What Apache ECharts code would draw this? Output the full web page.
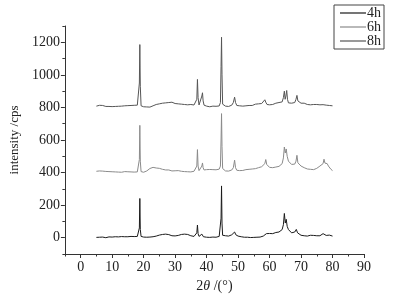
<!DOCTYPE html>
<html><head><meta charset="utf-8">
<script src="https://cdn.jsdelivr.net/npm/echarts@6/dist/echarts.min.js"></script>
<style>html,body{margin:0;padding:0;background:#fff}#c{width:395px;height:298px}</style>
</head><body><div id="c"></div>
<script>
var seriesNames = ['4h', '6h', '8h'];
var xTickLabels = [0, 10, 20, 30, 40, 50, 60, 70, 80, 90];
var xMinorTicks = [-5, 5, 15, 25, 35, 45, 55, 65, 75, 85];
var yTickLabels = [0, 200, 400, 600, 800, 1000, 1200];
var yMinorTicks = [-100, 100, 300, 500, 700, 900, 1100, 1300];

var data4h = [[5,2],[5.5,0],[6,3],[6.5,1],[7,4],[7.5,2],[8,0],[8.5,3],[9,5],[9.5,2],[10,4],[10.5,3],[11,6],[11.5,3],[12,5],[12.5,4],[13,7],[13.5,4],[14,6],[14.5,10],[15,6],[15.5,5],[16,8],[16.5,6],[17,7],[17.5,9],[18,8],[18.4,10],[18.65,60],[18.8,241],[18.95,50],[19.2,8],[19.5,5],[20,4],[20.5,2],[21,3],[21.5,1],[22,4],[22.5,2],[23,6],[23.5,8],[24,10],[24.5,12],[25,16],[25.5,14],[26,20],[26.5,18],[27,22],[27.5,17],[28,19],[28.5,14],[29,12],[29.5,10],[30,11],[30.5,9],[31,14],[31.5,18],[32,20],[32.5,24],[33,22],[33.5,25],[34,20],[34.5,16],[35,12],[35.5,9],[36,8],[36.5,10],[36.9,30],[37.1,78],[37.3,25],[37.6,8],[38,10],[38.5,22],[38.8,12],[39,6],[39.5,5],[40,3],[40.5,4],[41,2],[41.5,3],[42,4],[42.5,5],[43,3],[43.5,6],[44,8],[44.4,20],[44.6,120],[44.75,318],[44.9,90],[45.1,15],[45.5,10],[46,12],[46.5,14],[47,10],[47.5,16],[48,18],[48.5,22],[48.9,35],[49.3,18],[49.7,14],[50,10],[50.5,8],[51,6],[51.5,4],[52,3],[52.5,2],[53,3],[53.5,2],[54,1],[54.5,3],[55,2],[55.5,1],[56,3],[56.5,2],[57,4],[57.5,6],[58,10],[58.5,20],[59,25],[59.5,22],[60,26],[60.5,28],[61,25],[61.5,30],[62,32],[62.5,28],[63,35],[63.5,40],[64,50],[64.4,80],[64.7,149],[65,90],[65.3,113],[65.6,70],[66,50],[66.5,40],[67,30],[67.5,25],[68,35],[68.5,51],[68.9,30],[69.5,20],[70,15],[70.5,18],[71,12],[71.5,14],[72,10],[72.5,13],[73,15],[73.5,11],[74,14],[74.5,10],[75,12],[75.5,16],[76,12],[76.5,18],[77,25],[77.5,20],[78,14],[78.5,10],[79,16],[79.5,12],[80,10]];

var data6h = [[5,408],[5.5,405],[6,410],[6.5,406],[7,409],[7.5,404],[8,407],[8.5,411],[9,406],[9.5,408],[10,405],[10.5,407],[11,404],[11.5,406],[12,403],[12.5,405],[13,402],[13.5,404],[14,406],[14.5,403],[15,405],[15.5,402],[16,404],[16.5,401],[17,403],[17.5,402],[18,404],[18.4,406],[18.65,480],[18.8,690],[18.95,470],[19.2,406],[19.5,404],[20,402],[20.5,405],[21,410],[21.5,418],[22,425],[22.5,428],[23,432],[23.5,430],[24,428],[24.5,432],[25,426],[25.5,424],[26,420],[26.5,418],[27,416],[27.5,414],[28,416],[28.5,412],[29,410],[29.5,408],[30,411],[30.5,409],[31,412],[31.5,410],[32,408],[32.5,410],[33,406],[33.5,409],[34,405],[34.5,407],[35,404],[35.5,406],[36,408],[36.5,410],[36.9,440],[37.1,541],[37.3,440],[37.6,412],[38,414],[38.5,440],[38.7,459],[38.9,430],[39.2,416],[39.5,420],[40,418],[40.5,422],[41,419],[41.5,421],[42,418],[42.5,420],[43,417],[43.5,419],[44,421],[44.4,440],[44.6,600],[44.75,762],[44.9,560],[45.1,425],[45.5,414],[46,410],[46.5,412],[47,409],[47.5,414],[48,416],[48.5,430],[48.9,476],[49.2,430],[49.6,414],[50,410],[50.5,412],[51,409],[51.5,413],[52,415],[52.5,418],[53,416],[53.5,420],[54,418],[54.5,422],[55,420],[55.5,424],[56,426],[56.5,430],[57,428],[57.5,436],[58,440],[58.5,455],[58.8,480],[59.1,450],[59.5,438],[60,432],[60.5,436],[61,430],[61.5,438],[62,434],[62.5,440],[63,438],[63.5,445],[64,455],[64.4,490],[64.7,557],[65,520],[65.3,545],[65.6,500],[66,470],[66.5,460],[67,450],[67.5,446],[68,452],[68.4,470],[68.7,506],[69,460],[69.5,448],[70,440],[70.5,435],[71,430],[71.5,426],[72,422],[72.5,418],[73,420],[73.5,416],[74,418],[74.5,422],[75,426],[75.5,430],[76,440],[76.2,452],[76.5,436],[77,455],[77.3,482],[77.6,458],[78,470],[78.3,455],[78.7,440],[79,432],[79.5,420],[80,412]];

var data8h = [[5,808],[5.5,810],[6,813],[6.5,816],[7,812],[7.5,810],[8,806],[8.5,804],[9,806],[9.5,803],[10,805],[10.5,802],[11,806],[11.5,804],[12,807],[12.5,805],[13,808],[13.5,806],[14,810],[14.5,808],[15,811],[15.5,809],[16,812],[16.5,810],[17,813],[17.5,811],[18,814],[18.4,816],[18.65,950],[18.8,1186],[18.95,930],[19.2,810],[19.5,806],[20,804],[20.5,806],[21,803],[21.5,805],[22,802],[22.5,806],[23,810],[23.5,815],[24,818],[24.5,816],[25,822],[25.5,820],[26,826],[26.5,830],[27,828],[27.5,834],[28,830],[28.5,826],[29,832],[29.5,828],[30,824],[30.5,830],[31,822],[31.5,826],[32,820],[32.5,824],[33,818],[33.5,822],[34,816],[34.5,820],[35,818],[35.5,822],[36,815],[36.5,818],[36.9,850],[37.1,972],[37.3,860],[37.6,815],[38,818],[38.5,870],[38.7,890],[38.9,840],[39.2,814],[39.5,810],[40,808],[40.5,806],[41,804],[41.5,806],[42,808],[42.5,805],[43,807],[43.5,806],[44,809],[44.4,830],[44.6,1050],[44.75,1231],[44.9,1000],[45.1,820],[45.5,812],[46,808],[46.5,810],[47,806],[47.5,812],[48,814],[48.5,830],[48.9,863],[49.2,830],[49.6,812],[50,808],[50.5,810],[51,806],[51.5,808],[52,805],[52.5,810],[53,808],[53.5,812],[54,815],[54.5,812],[55,818],[55.5,820],[56,816],[56.5,822],[57,818],[57.5,824],[58,828],[58.5,847],[58.8,832],[59.2,818],[59.5,822],[60,816],[60.5,820],[61,818],[61.5,824],[62,826],[62.5,822],[63,830],[63.5,826],[64,834],[64.4,860],[64.7,900],[64.95,850],[65.2,870],[65.45,904],[65.7,850],[66,828],[66.5,822],[67,826],[67.5,820],[68,830],[68.4,850],[68.7,874],[69,840],[69.5,830],[70,826],[70.5,832],[71,826],[71.5,820],[72,818],[72.5,822],[73,816],[73.5,820],[74,818],[74.5,823],[75,818],[75.5,822],[76,816],[76.5,821],[77,817],[77.5,820],[78,814],[78.5,818],[79,812],[79.5,815],[80,810]];

var colors = ['#1a1a1a', '#8a8a8a', '#555555'];
var font = '"Liberation Serif", "Times New Roman", serif';
var axisColor = '#333';
var plain = function (v) { return String(v); };

var chart = echarts.init(document.getElementById('c'), null, {renderer: 'canvas'});
var seriesData = [data4h, data6h, data8h];
chart.setOption({
  animation: false,
  textStyle: {fontFamily: font},
  grid: {left: 55, right: 31, top: 26, bottom: 42, containLabel: false},
  legend: {
    data: seriesNames,
    orient: 'vertical',
    right: 11, top: 5,
    icon: 'rect',
    itemWidth: 26, itemHeight: 1.2, itemGap: 0,
    borderColor: '#444', borderWidth: 1, borderRadius: 0,
    padding: [1, 3, 1, 6],
    textStyle: {fontFamily: font, fontSize: 14, color: '#222', lineHeight: 13, padding: [0, 0, 0, -4]}
  },
  xAxis: [{
    type: 'value', min: -5, max: 90,
    name: '{n|2}{i|θ}{n| /(°)}', nameLocation: 'middle', nameGap: 25,
    nameTextStyle: {rich: {n: {fontFamily: font, fontSize: 14, color: '#222'}, i: {fontFamily: font, fontSize: 14, fontStyle: 'italic', color: '#222'}}},
    axisLine: {onZero: false, lineStyle: {color: axisColor, width: 1}},
    axisTick: {customValues: xTickLabels, length: 4, lineStyle: {color: axisColor}},
    axisLabel: {customValues: xTickLabels, formatter: plain, fontFamily: font, fontSize: 14, color: '#222', margin: 6},
    splitLine: {show: false}
  }, {
    type: 'value', min: -5, max: 90, position: 'bottom',
    axisLine: {show: false, onZero: false},
    axisTick: {customValues: xMinorTicks, length: 2.5, lineStyle: {color: axisColor}},
    axisLabel: {show: false},
    splitLine: {show: false}
  }],
  yAxis: [{
    type: 'value', min: -100, max: 1300,
    name: 'intensity /cps', nameLocation: 'middle', nameGap: 41,
    nameTextStyle: {fontFamily: font, fontSize: 13, color: '#222'},
    axisLine: {onZero: false, lineStyle: {color: axisColor, width: 1}},
    axisTick: {customValues: yTickLabels, length: 4, lineStyle: {color: axisColor}},
    axisLabel: {customValues: yTickLabels, formatter: plain, fontFamily: font, fontSize: 14, color: '#222', margin: 5},
    splitLine: {show: false}
  }, {
    type: 'value', min: -100, max: 1300, position: 'left',
    axisLine: {show: false, onZero: false},
    axisTick: {customValues: yMinorTicks, length: 2.5, lineStyle: {color: axisColor}},
    axisLabel: {show: false},
    splitLine: {show: false}
  }],
  series: seriesNames.map(function (n, i) {
    return {
      name: n, type: 'line', data: seriesData[i], xAxisIndex: 0, yAxisIndex: 0,
      symbol: 'none', lineStyle: {color: colors[i], width: 1}, itemStyle: {color: colors[i]}
    };
  })
});
</script></body></html>
